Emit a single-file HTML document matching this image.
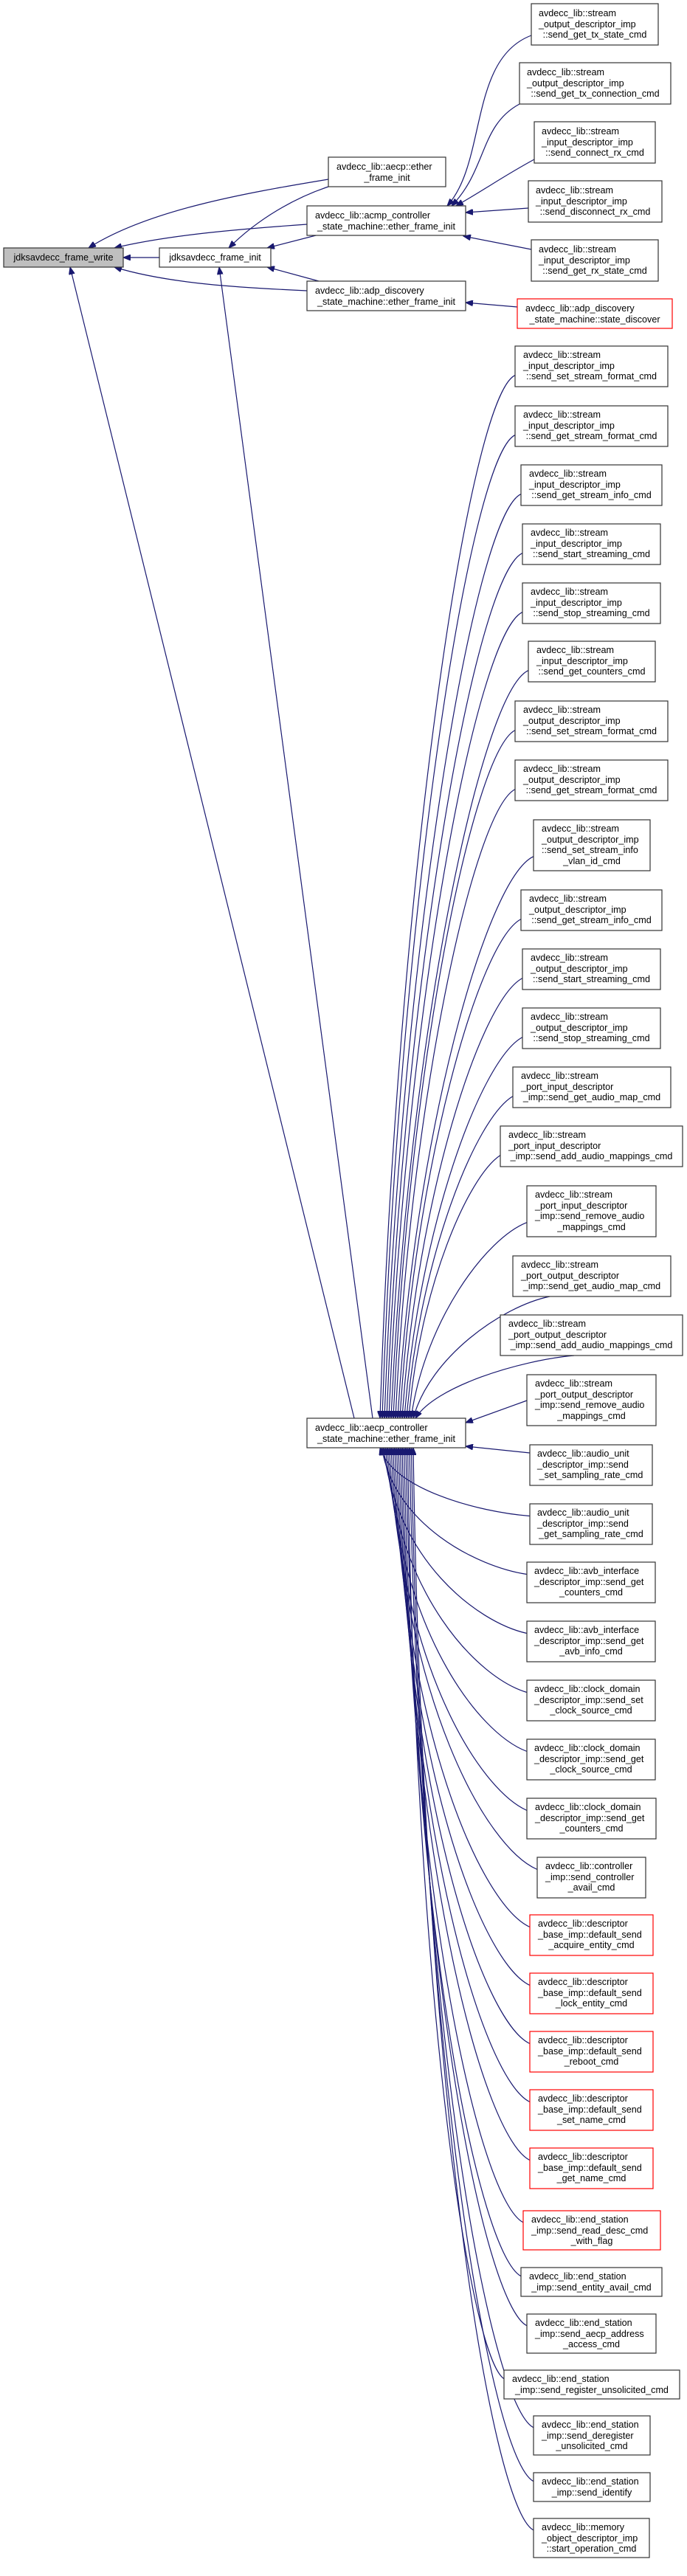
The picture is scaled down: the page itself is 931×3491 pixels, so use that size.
<!DOCTYPE html>
<html><head><meta charset="utf-8">
<style>
html,body{margin:0;padding:0;background:#fff;}
svg{display:block;}
text{font-family:"Liberation Sans",Arial,sans-serif;font-size:12.6px;fill:#000;}
rect{fill:#fff;stroke:#333;stroke-width:1.2;}
.red rect{stroke:#ff0000;}
.gray rect{fill:#bfbfbf;}
.m{text-anchor:middle;}
path.e{fill:none;stroke:#191970;stroke-width:1.2;}
</style></head>
<body>
<svg id="s" width="931" height="3491" viewBox="0 0 931 3491" xmlns="http://www.w3.org/2000/svg">
<defs>
<marker id="ar" markerWidth="11" markerHeight="8" refX="10" refY="4" orient="auto-start-reverse" markerUnits="userSpaceOnUse">
<path d="M0,0 L10,4 L0,8 z" fill="#191970" stroke="#191970"/>
</marker>
</defs>
<g id="edges">
<path class="e" marker-start="url(#ar)" d="M167,349 L216,349"/>
<path class="e" marker-start="url(#ar)" d="M120,336 C200,285 330,262 445,243"/>
<path class="e" marker-start="url(#ar)" d="M310,336 C350,296 400,268 445,253"/>
<path class="e" marker-start="url(#ar)" d="M155,336 C230,318 330,310 416,304"/>
<path class="e" marker-start="url(#ar)" d="M362,336 L432,318"/>
<path class="e" marker-start="url(#ar)" d="M155,362 C230,385 330,390 416,394"/>
<path class="e" marker-start="url(#ar)" d="M362,362 L432,381"/>
<path class="e" marker-start="url(#ar)" d="M95,362 L480,1922"/>
<path class="e" marker-start="url(#ar)" d="M297,362 L505,1922"/>
<path class="e" marker-start="url(#ar)" d="M606,279 C660,220 635,80 720,48"/>
<path class="e" marker-start="url(#ar)" d="M612,279 C660,230 650,170 704,141"/>
<path class="e" marker-start="url(#ar)" d="M618,279 C660,255 680,240 724,216"/>
<path class="e" marker-start="url(#ar)" d="M631,288 L716,282"/>
<path class="e" marker-start="url(#ar)" d="M628,320 L720,338"/>
<path class="e" marker-start="url(#ar)" d="M631,410 L701,416"/>
</g>

<!-- left / middle nodes -->
<g class="gray" transform="translate(5,336)"><rect width="162" height="26"/><text class="m" x="81" y="17">jdksavdecc_frame_write</text></g>
<g transform="translate(216,336)"><rect width="151" height="26"/><text class="m" x="75.5" y="17">jdksavdecc_frame_init</text></g>
<g transform="translate(445,213)"><rect width="159" height="40"/><text x="11" y="17">avdecc_lib::aecp::ether</text><text class="m" x="79.5" y="32">_frame_init</text></g>
<g transform="translate(416,279)"><rect width="215" height="40"/><text x="11" y="17">avdecc_lib::acmp_controller</text><text class="m" x="107.5" y="32">_state_machine::ether_frame_init</text></g>
<g transform="translate(416,381)"><rect width="215" height="40"/><text x="11" y="17">avdecc_lib::adp_discovery</text><text class="m" x="107.5" y="32">_state_machine::ether_frame_init</text></g>
<g transform="translate(416,1922)"><rect width="215" height="40"/><text x="11" y="17">avdecc_lib::aecp_controller</text><text class="m" x="107.5" y="32">_state_machine::ether_frame_init</text></g>

<!-- right column top -->
<g transform="translate(720,5)"><rect width="172" height="56"/><text x="10" y="17">avdecc_lib::stream</text><text x="10" y="32">_output_descriptor_imp</text><text class="m" x="86" y="46">::send_get_tx_state_cmd</text></g>
<g transform="translate(704,85)"><rect width="205" height="56"/><text x="10" y="17">avdecc_lib::stream</text><text x="10" y="32">_output_descriptor_imp</text><text class="m" x="102.5" y="46">::send_get_tx_connection_cmd</text></g>
<g transform="translate(724,165)"><rect width="164" height="56"/><text x="10" y="17">avdecc_lib::stream</text><text x="10" y="32">_input_descriptor_imp</text><text class="m" x="82" y="46">::send_connect_rx_cmd</text></g>
<g transform="translate(716,245)"><rect width="181" height="56"/><text x="10" y="17">avdecc_lib::stream</text><text x="10" y="32">_input_descriptor_imp</text><text class="m" x="90.5" y="46">::send_disconnect_rx_cmd</text></g>
<g transform="translate(720,325)"><rect width="172" height="56"/><text x="10" y="17">avdecc_lib::stream</text><text x="10" y="32">_input_descriptor_imp</text><text class="m" x="86" y="46">::send_get_rx_state_cmd</text></g>
<g class="red" transform="translate(701,405)"><rect width="210" height="40"/><text x="11" y="17">avdecc_lib::adp_discovery</text><text class="m" x="105" y="32">_state_machine::state_discover</text></g>

<!-- aecp callers -->
<g transform="translate(698,469)"><rect width="207" height="55"/><text x="11" y="16">avdecc_lib::stream</text><text x="11" y="31">_input_descriptor_imp</text><text class="m" x="103.5" y="45">::send_set_stream_format_cmd</text></g>
<g transform="translate(698,550)"><rect width="207" height="55"/><text x="11" y="16">avdecc_lib::stream</text><text x="11" y="31">_input_descriptor_imp</text><text class="m" x="103.5" y="45">::send_get_stream_format_cmd</text></g>
<g transform="translate(706,630)"><rect width="191" height="55"/><text x="11" y="16">avdecc_lib::stream</text><text x="11" y="31">_input_descriptor_imp</text><text class="m" x="95.5" y="45">::send_get_stream_info_cmd</text></g>
<g transform="translate(708,710)"><rect width="187" height="55"/><text x="11" y="16">avdecc_lib::stream</text><text x="11" y="31">_input_descriptor_imp</text><text class="m" x="93.5" y="45">::send_start_streaming_cmd</text></g>
<g transform="translate(708,790)"><rect width="187" height="55"/><text x="11" y="16">avdecc_lib::stream</text><text x="11" y="31">_input_descriptor_imp</text><text class="m" x="93.5" y="45">::send_stop_streaming_cmd</text></g>
<g transform="translate(716,869)"><rect width="172" height="55"/><text x="11" y="16">avdecc_lib::stream</text><text x="11" y="31">_input_descriptor_imp</text><text class="m" x="86" y="45">::send_get_counters_cmd</text></g>
<g transform="translate(698,950)"><rect width="207" height="55"/><text x="11" y="16">avdecc_lib::stream</text><text x="11" y="31">_output_descriptor_imp</text><text class="m" x="103.5" y="45">::send_set_stream_format_cmd</text></g>
<g transform="translate(698,1030)"><rect width="207" height="55"/><text x="11" y="16">avdecc_lib::stream</text><text x="11" y="31">_output_descriptor_imp</text><text class="m" x="103.5" y="45">::send_get_stream_format_cmd</text></g>
<g transform="translate(723,1111)"><rect width="158" height="69"/><text x="11" y="16">avdecc_lib::stream</text><text x="11" y="31">_output_descriptor_imp</text><text x="11" y="45">::send_set_stream_info</text><text class="m" x="79" y="60">_vlan_id_cmd</text></g>
<g transform="translate(706,1206)"><rect width="191" height="55"/><text x="11" y="16">avdecc_lib::stream</text><text x="11" y="31">_output_descriptor_imp</text><text class="m" x="95.5" y="45">::send_get_stream_info_cmd</text></g>
<g transform="translate(708,1286)"><rect width="187" height="55"/><text x="11" y="16">avdecc_lib::stream</text><text x="11" y="31">_output_descriptor_imp</text><text class="m" x="93.5" y="45">::send_start_streaming_cmd</text></g>
<g transform="translate(708,1366)"><rect width="187" height="55"/><text x="11" y="16">avdecc_lib::stream</text><text x="11" y="31">_output_descriptor_imp</text><text class="m" x="93.5" y="45">::send_stop_streaming_cmd</text></g>
<g transform="translate(695,1446)"><rect width="214" height="55"/><text x="11" y="16">avdecc_lib::stream</text><text x="11" y="31">_port_input_descriptor</text><text class="m" x="107" y="45">_imp::send_get_audio_map_cmd</text></g>
<g transform="translate(678,1526)"><rect width="247" height="55"/><text x="11" y="16">avdecc_lib::stream</text><text x="11" y="31">_port_input_descriptor</text><text class="m" x="123.5" y="45">_imp::send_add_audio_mappings_cmd</text></g>
<g transform="translate(714,1607)"><rect width="175" height="69"/><text x="11" y="16">avdecc_lib::stream</text><text x="11" y="31">_port_input_descriptor</text><text x="11" y="45">_imp::send_remove_audio</text><text class="m" x="87.5" y="60">_mappings_cmd</text></g>
<g transform="translate(695,1702)"><rect width="214" height="55"/><text x="11" y="16">avdecc_lib::stream</text><text x="11" y="31">_port_output_descriptor</text><text class="m" x="107" y="45">_imp::send_get_audio_map_cmd</text></g>
<g transform="translate(678,1782)"><rect width="247" height="55"/><text x="11" y="16">avdecc_lib::stream</text><text x="11" y="31">_port_output_descriptor</text><text class="m" x="123.5" y="45">_imp::send_add_audio_mappings_cmd</text></g>
<g transform="translate(714,1863)"><rect width="175" height="69"/><text x="11" y="16">avdecc_lib::stream</text><text x="11" y="31">_port_output_descriptor</text><text x="11" y="45">_imp::send_remove_audio</text><text class="m" x="87.5" y="60">_mappings_cmd</text></g>
<g transform="translate(718,1958)"><rect width="166" height="55"/><text x="10" y="16">avdecc_lib::audio_unit</text><text x="10" y="31">_descriptor_imp::send</text><text class="m" x="83" y="45">_set_sampling_rate_cmd</text></g>
<g transform="translate(718,2038)"><rect width="166" height="55"/><text x="10" y="16">avdecc_lib::audio_unit</text><text x="10" y="31">_descriptor_imp::send</text><text class="m" x="83" y="45">_get_sampling_rate_cmd</text></g>
<g transform="translate(714,2117)"><rect width="174" height="55"/><text x="10" y="16">avdecc_lib::avb_interface</text><text x="10" y="31">_descriptor_imp::send_get</text><text class="m" x="87" y="45">_counters_cmd</text></g>
<g transform="translate(714,2197)"><rect width="174" height="55"/><text x="10" y="16">avdecc_lib::avb_interface</text><text x="10" y="31">_descriptor_imp::send_get</text><text class="m" x="87" y="45">_avb_info_cmd</text></g>
<g transform="translate(714,2277)"><rect width="174" height="55"/><text x="10" y="16">avdecc_lib::clock_domain</text><text x="10" y="31">_descriptor_imp::send_set</text><text class="m" x="87" y="45">_clock_source_cmd</text></g>
<g transform="translate(714,2357)"><rect width="174" height="55"/><text x="10" y="16">avdecc_lib::clock_domain</text><text x="10" y="31">_descriptor_imp::send_get</text><text class="m" x="87" y="45">_clock_source_cmd</text></g>
<g transform="translate(714,2437)"><rect width="175" height="55"/><text x="11" y="16">avdecc_lib::clock_domain</text><text x="11" y="31">_descriptor_imp::send_get</text><text class="m" x="87.5" y="45">_counters_cmd</text></g>
<g transform="translate(728,2517)"><rect width="147" height="55"/><text x="11" y="16">avdecc_lib::controller</text><text x="11" y="31">_imp::send_controller</text><text class="m" x="73.5" y="45">_avail_cmd</text></g>
<g class="red" transform="translate(718,2595)"><rect width="167" height="55"/><text x="11" y="16">avdecc_lib::descriptor</text><text x="11" y="31">_base_imp::default_send</text><text class="m" x="83.5" y="45">_acquire_entity_cmd</text></g>
<g class="red" transform="translate(718,2674)"><rect width="167" height="55"/><text x="11" y="16">avdecc_lib::descriptor</text><text x="11" y="31">_base_imp::default_send</text><text class="m" x="83.5" y="45">_lock_entity_cmd</text></g>
<g class="red" transform="translate(718,2753)"><rect width="167" height="55"/><text x="11" y="16">avdecc_lib::descriptor</text><text x="11" y="31">_base_imp::default_send</text><text class="m" x="83.5" y="45">_reboot_cmd</text></g>
<g class="red" transform="translate(718,2832)"><rect width="167" height="55"/><text x="11" y="16">avdecc_lib::descriptor</text><text x="11" y="31">_base_imp::default_send</text><text class="m" x="83.5" y="45">_set_name_cmd</text></g>
<g class="red" transform="translate(718,2911)"><rect width="167" height="55"/><text x="11" y="16">avdecc_lib::descriptor</text><text x="11" y="31">_base_imp::default_send</text><text class="m" x="83.5" y="45">_get_name_cmd</text></g>
<g class="red" transform="translate(709,2996)"><rect width="186" height="53"/><text x="11" y="16">avdecc_lib::end_station</text><text x="11" y="31">_imp::send_read_desc_cmd</text><text class="m" x="93" y="45">_with_flag</text></g>
<g transform="translate(706,3073)"><rect width="191" height="39"/><text x="11" y="16">avdecc_lib::end_station</text><text class="m" x="95.5" y="31">_imp::send_entity_avail_cmd</text></g>
<g transform="translate(714,3136)"><rect width="175" height="53"/><text x="11" y="16">avdecc_lib::end_station</text><text x="11" y="31">_imp::send_aecp_address</text><text class="m" x="87.5" y="45">_access_cmd</text></g>
<g transform="translate(683,3212)"><rect width="238" height="39"/><text x="11" y="16">avdecc_lib::end_station</text><text class="m" x="119" y="31">_imp::send_register_unsolicited_cmd</text></g>
<g transform="translate(723,3274)"><rect width="158" height="53"/><text x="11" y="16">avdecc_lib::end_station</text><text x="11" y="31">_imp::send_deregister</text><text class="m" x="79" y="45">_unsolicited_cmd</text></g>
<g transform="translate(723,3351)"><rect width="158" height="39"/><text x="11" y="16">avdecc_lib::end_station</text><text class="m" x="79" y="31">_imp::send_identify</text></g>
<g transform="translate(723,3413)"><rect width="157" height="53"/><text x="11" y="16">avdecc_lib::memory</text><text x="11" y="31">_object_descriptor_imp</text><text class="m" x="78.5" y="45">::start_operation_cmd</text></g>
</svg>
<script>
(function(){
var B=[[698,469,55],[698,550,55],[706,630,55],[708,710,55],[708,790,55],[716,869,55],[698,950,55],[698,1030,55],[723,1111,69],[706,1206,55],[708,1286,55],[708,1366,55],[695,1446,55],[678,1526,55],[714,1607,69],[695,1702,55],[678,1782,55],[714,1863,69],
[718,1958,55],[718,2038,55],[714,2117,55],[714,2197,55],[714,2277,55],[714,2357,55],[714,2437,55],[728,2517,55],[718,2595,55],[718,2674,55],[718,2753,55],[718,2832,55],[718,2911,55],[709,2996,53],[706,3073,39],[714,3136,53],[683,3212,39],[723,3274,53],[706+17,3351,39],[723,3413,53]];
var g=document.getElementById('edges'),ns='http://www.w3.org/2000/svg';
function add(d){var p=document.createElementNS(ns,'path');p.setAttribute('class','e');p.setAttribute('marker-start','url(#ar)');p.setAttribute('d',d);g.appendChild(p);}
for(var i=0;i<B.length;i++){
 var x=B[i][0],t=B[i][1],h=B[i][2],d;
 if(i<17){
  var sx=x,sy=t+h*0.72,tx=515+i*3,ty=1922;
  if(i>=15){sx=x+(i==15?50:100);sy=t+h;}
  var c1x=tx+(sx-tx)*0.12,c1y=ty-(ty-sy)*0.5,c2x=sx-(sx-tx)*0.35,c2y=sy+Math.min(30,(ty-sy)*0.08);
  d='M'+tx+','+ty+' C'+c1x+','+c1y+' '+c2x+','+c2y+' '+sx+','+sy;
 } else if(i==17){d='M631,1928 L'+x+','+(t+35);}
 else if(i==18){d='M631,1960 L'+x+','+(t+11);}
 else {
  var sx=x,sy=t+h*0.3,tx=515+(i-19)*2.5,ty=1962;
  var c1x=tx+(sx-tx)*0.08,c1y=ty+(sy-ty)*0.6,c2x=sx-(sx-tx)*0.35,c2y=sy-Math.min(30,(sy-ty)*0.06);
  d='M'+tx+','+ty+' C'+c1x+','+c1y+' '+c2x+','+c2y+' '+sx+','+sy;
 }
 add(d);
}
})();
</script>
</body></html>
